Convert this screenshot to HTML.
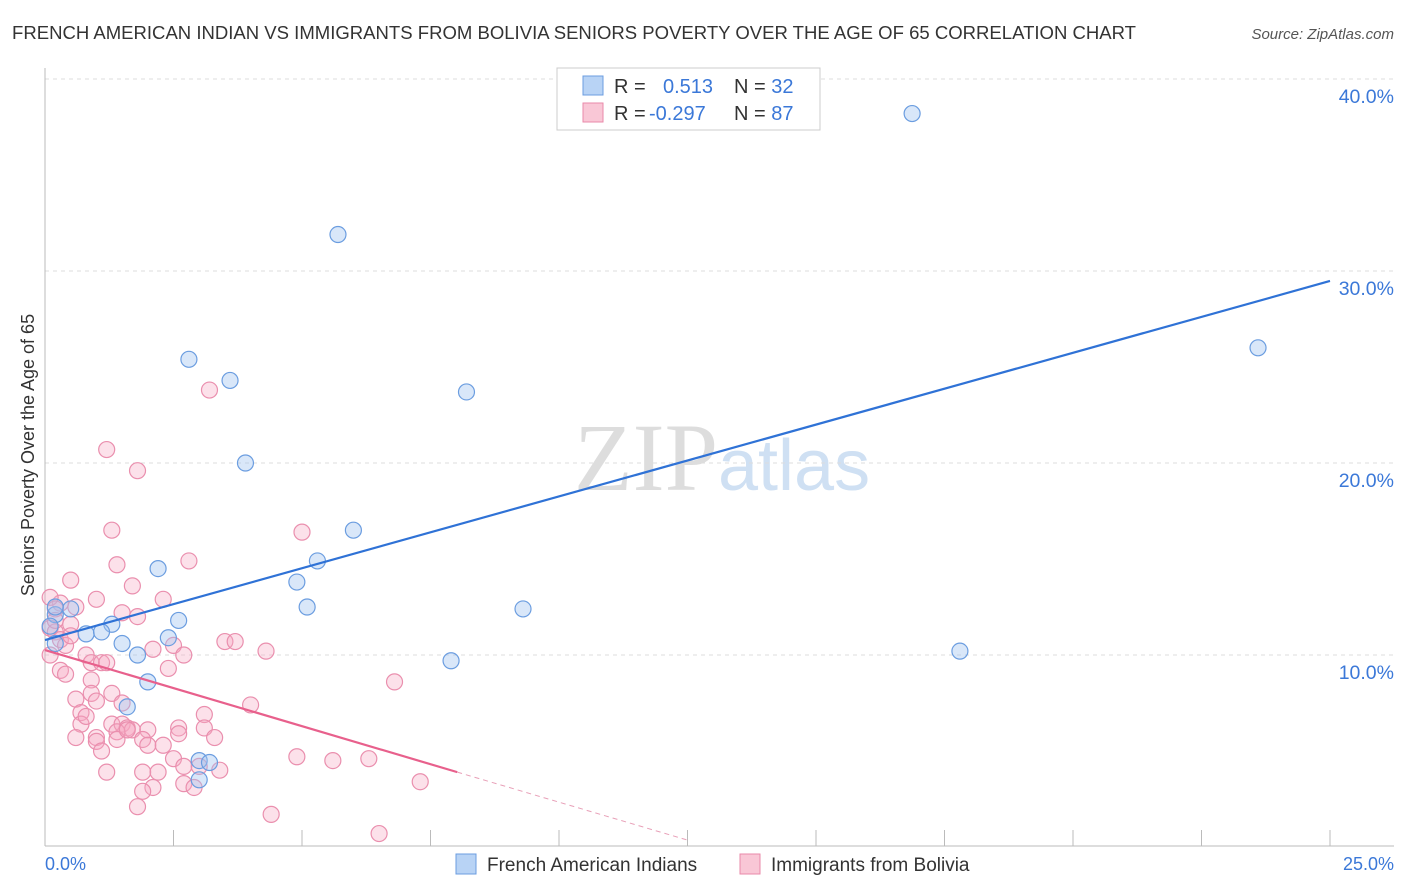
<!DOCTYPE html>
<html><head><meta charset="utf-8"><style>
body{margin:0;background:#fff;font-family:"Liberation Sans",sans-serif;}
#wrap{position:relative;width:1406px;height:892px;overflow:hidden;}
</style></head><body>
<div id="wrap">
<svg id="svg" width="1406" height="892" xmlns="http://www.w3.org/2000/svg">
<text x="12" y="39" font-size="18" fill="#333" textLength="1124" lengthAdjust="spacingAndGlyphs">FRENCH AMERICAN INDIAN VS IMMIGRANTS FROM BOLIVIA SENIORS POVERTY OVER THE AGE OF 65 CORRELATION CHART</text>
<text x="1394" y="39" font-size="15" fill="#555" font-style="italic" text-anchor="end">Source: ZipAtlas.com</text>
<text x="718" y="490" font-size="96" fill="#ddd" text-anchor="end" font-family="Liberation Serif,serif">ZIP</text>
<text x="718" y="490" font-size="72" fill="#cfe0f3">atlas</text>
<text x="34" y="455" font-size="18" fill="#333" text-anchor="middle" transform="rotate(-90 34 455)">Seniors Poverty Over the Age of 65</text>
<g id="grid"></g><g id="pts"></g><g id="lines"></g>
<rect x="557" y="68" width="263" height="62" fill="#fff" stroke="#ccc"/>
<rect x="583" y="76" width="20" height="19" fill="#b8d3f5" stroke="#6b9de0"/>
<rect x="583" y="103" width="20" height="19" fill="#f9c7d6" stroke="#e98aa9"/>
<text x="614" y="93" font-size="20" fill="#333">R = <tspan fill="#3b78d8" x="663">0.513</tspan><tspan fill="#333" x="734">N = </tspan><tspan fill="#3b78d8">32</tspan></text>
<text x="614" y="120" font-size="20" fill="#333">R = <tspan fill="#3b78d8" x="649">-0.297</tspan><tspan fill="#333" x="734">N = </tspan><tspan fill="#3b78d8">87</tspan></text>
<rect x="456" y="854" width="20" height="20" fill="#b8d3f5" stroke="#6b9de0"/>
<text x="487" y="871" font-size="19" fill="#333">French American Indians</text>
<rect x="740" y="854" width="20" height="20" fill="#f9c7d6" stroke="#e98aa9"/>
<text x="771" y="871" font-size="19" fill="#333">Immigrants from Bolivia</text>
<text x="45" y="870" font-size="18" fill="#3b78d8">0.0%</text>
<text x="1394" y="870" font-size="18" fill="#3b78d8" text-anchor="end">25.0%</text>
</svg></div>
<script>
const blueX=[16.87,5.7,2.8,3.6,8.2,23.6,3.9,6.0,5.3,2.2,4.9,5.1,9.3,0.5,2.6,1.3,0.8,1.1,2.4,1.5,0.2,1.8,7.9,17.8,2.0,1.6,0.2,0.1,3.0,3.2,3.0,0.2];
const blueY=[38.2,31.9,25.4,24.3,23.7,26.0,20.0,16.5,14.9,14.5,13.8,12.5,12.4,12.4,11.8,11.6,11.1,11.2,10.9,10.6,12.1,10.0,9.7,10.2,8.6,7.3,12.5,11.5,4.5,4.4,3.5,10.6];
const pinkX=[3.2,1.2,1.8,1.3,5.0,2.8,1.4,0.5,1.7,1.0,2.3,0.6,0.3,1.5,1.8,0.1,0.2,0.1,0.2,0.3,0.5,0.4,0.5,2.1,2.5,3.5,3.7,4.3,2.7,0.8,0.9,1.1,1.2,2.4,0.3,0.9,6.8,0.6,0.9,1.3,1.0,1.5,4.0,0.7,3.1,0.7,1.3,1.5,1.6,1.7,2.0,1.0,1.4,3.1,3.3,0.6,1.0,1.4,1.9,2.0,4.9,5.6,6.3,2.5,2.7,1.2,1.9,2.2,7.3,2.7,2.9,2.1,1.8,4.4,6.5,0.1,2.6,3.0,0.4,1.6,2.3,0.8,1.1,2.6,3.4,0.2,1.9];
const pinkY=[23.8,20.7,19.6,16.5,16.4,14.9,14.7,13.9,13.6,12.9,12.9,12.5,12.7,12.2,12.0,13.0,12.4,11.4,11.2,10.8,11.6,10.5,11.0,10.3,10.5,10.7,10.7,10.2,10.0,10.0,9.6,9.6,9.6,9.3,9.2,8.7,8.6,7.7,8.0,8.0,7.6,7.5,7.4,7.0,6.9,6.4,6.4,6.4,6.2,6.1,6.1,5.7,6.0,6.2,5.7,5.7,5.5,5.6,5.6,5.3,4.7,4.5,4.6,4.6,4.2,3.9,3.9,3.9,3.4,3.3,3.1,3.1,2.1,1.7,0.7,10.0,6.2,4.2,9.0,6.1,5.3,6.8,5.0,5.9,4.0,11.8,2.9];
const yTicks=[10,20,30,40];
const trendBlue=[[0,10.78],[25,29.48]];
const trendPink=[[0,10.26],[8.02,3.9]];
const trendPinkDash=[[8.02,3.9],[12.5,0.36]];
const xs=v=>45+v*51.4, ys=v=>847-v*19.2;
const NS="http://www.w3.org/2000/svg";
function mk(t,a,p){const e=document.createElementNS(NS,t);for(const k in a)e.setAttribute(k,a[k]);p.appendChild(e);return e;}
const grid=document.getElementById('grid');
yTicks.forEach(t=>{const l=mk('line',{x1:45,x2:1394,y1:ys(t),y2:ys(t),stroke:'#ddd','stroke-dasharray':'4 4'},grid);


const tx=mk('text',{x:1394,y:ys(t)+24,'font-size':19.5,fill:'#3b78d8','text-anchor':'end'},grid);tx.textContent=t.toFixed(1)+'%';

});
const ax=mk('line',{x1:45,x2:1394,y1:846,y2:846,stroke:'#bbb'},grid);


const ay=mk('line',{x1:45,x2:45,y1:68,y2:846,stroke:'#bbb'},grid);


for(let i=1;i<=10;i++){const tk=mk('line',{x1:xs(i*2.5),x2:xs(i*2.5),y1:830,y2:846,stroke:'#bbb'},grid);

}
const pts=document.getElementById('pts');
pinkX.forEach((x,i)=>{const c=mk('circle',{cx:xs(x),cy:ys(pinkY[i]),r:8,fill:'rgba(246,170,195,0.35)',stroke:'#ea8fae','stroke-width':1.2},pts);

});
blueX.forEach((x,i)=>{const c=mk('circle',{cx:xs(x),cy:ys(blueY[i]),r:8,fill:'rgba(160,195,240,0.4)',stroke:'#6b9de0','stroke-width':1.2},pts);

});
const ln=document.getElementById('lines');
const b=mk('line',{x1:xs(trendBlue[0][0]),y1:ys(trendBlue[0][1]),x2:xs(trendBlue[1][0]),y2:ys(trendBlue[1][1]),stroke:'#2f72d6','stroke-width':2.2},ln);


const p=mk('line',{x1:xs(trendPink[0][0]),y1:ys(trendPink[0][1]),x2:xs(trendPink[1][0]),y2:ys(trendPink[1][1]),stroke:'#e8608c','stroke-width':2.2},ln);


const pd=mk('line',{x1:xs(trendPinkDash[0][0]),y1:ys(trendPinkDash[0][1]),x2:xs(trendPinkDash[1][0]),y2:ys(trendPinkDash[1][1]),stroke:'#e8a0b8','stroke-width':1,'stroke-dasharray':'5 4'},ln);


</script></body></html>
